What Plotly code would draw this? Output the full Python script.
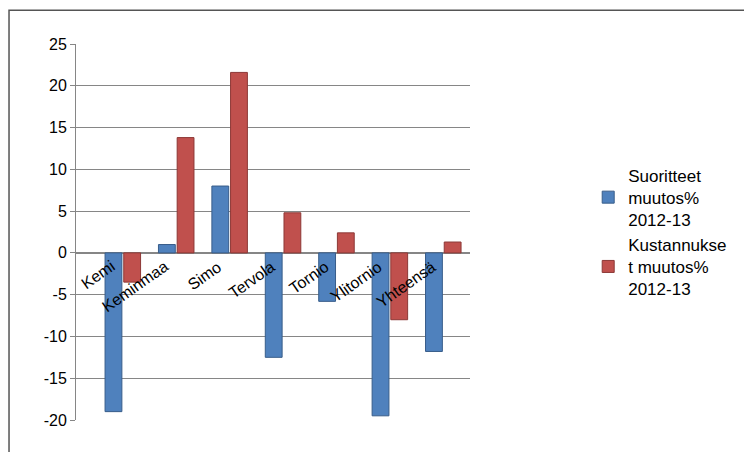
import plotly.graph_objects as go

categories = ["Kemi", "Keminmaa", "Simo", "Tervola", "Tornio", "Ylitornio", "Yhteensä"]
suoritteet = [-19, 1, 8, -12.5, -5.8, -19.5, -11.8]
kustannukset = [-3.5, 13.8, 21.6, 4.8, 2.4, -8, 1.3]
yticks = [-20, -15, -10, -5, 0, 5, 10, 15, 20, 25]
yticktext = [str(v) for v in yticks]

fig = go.Figure()
fig.add_bar(x=categories, y=suoritteet, name="Suoritteet<br>muutos%<br>2012-13",
            marker=dict(color="#4F81BD", line=dict(color="#385D8A", width=1)))
fig.add_bar(x=categories, y=kustannukset, name="Kustannukse<br>t muutos%<br>2012-13",
            marker=dict(color="#C0504D", line=dict(color="#8C3836", width=1)))

for c in categories:
    fig.add_annotation(x=c, y=0, text=c, showarrow=False, textangle=-35,
                       xanchor="right", yanchor="top", xshift=-2, yshift=-2,
                       font=dict(size=16, color="black", family="Liberation Sans"))

fig.add_shape(type="rect", xref="paper", yref="paper", x0=-0.17, x1=1.72, y0=-0.1, y1=1.09,
              line=dict(color="#555555", width=1.5))

fig.update_layout(
    width=752, height=452, paper_bgcolor="white", plot_bgcolor="white",
    barmode="group", bargap=0.3, bargroupgap=0.1,
    margin=dict(l=68, r=290, t=36, b=40),
    font=dict(family="Liberation Sans", size=16, color="black"),
    legend=dict(x=1.3, y=0.5, yanchor="middle", font=dict(size=17)),
    xaxis=dict(showticklabels=False, showline=False, showgrid=False),
    yaxis=dict(range=[-20, 25], tickvals=yticks, ticktext=yticktext, showgrid=True, gridcolor="#868686",
               zeroline=True, zerolinecolor="#868686", showline=True, linecolor="#868686",
               ticks="outside", tickcolor="#868686", ticklen=5),
)
fig.write_html("out.html")
